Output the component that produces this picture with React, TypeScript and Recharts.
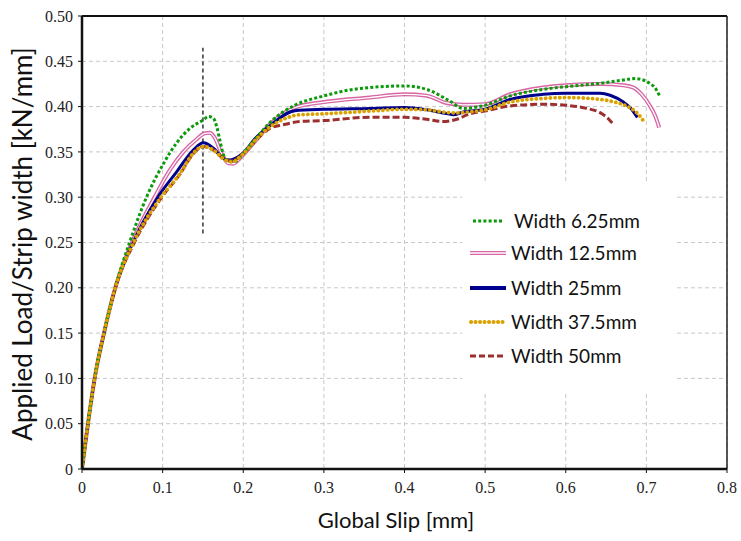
import React from 'react';
import { LineChart, Line, XAxis, YAxis, CartesianGrid, ReferenceLine } from 'recharts';

// ---------- data ----------
const xTicks = [0, 0.1, 0.2, 0.3, 0.4, 0.5, 0.6, 0.7, 0.8];
const yTicks = [0, 0.05, 0.1, 0.15, 0.2, 0.25, 0.3, 0.35, 0.4, 0.45, 0.5];

const seriesNames = ['Width 6.25mm', 'Width 12.5mm', 'Width 25mm', 'Width 37.5mm', 'Width 50mm'];

const width625: [number, number][] = [
  [0, 0], [0.0074, 0.05], [0.0157, 0.1], [0.0273, 0.15], [0.041, 0.2], [0.059, 0.25], [0.08, 0.3],
  [0.101, 0.337], [0.117, 0.3595], [0.134, 0.376], [0.15, 0.385], [0.157, 0.389], [0.163, 0.387],
  [0.167, 0.378], [0.171, 0.363], [0.175, 0.348], [0.181, 0.34], [0.188, 0.339], [0.2, 0.348],
  [0.215, 0.364], [0.233, 0.3824], [0.264, 0.4015],
  [0.3, 0.4118], [0.3365, 0.419], [0.4, 0.4228], [0.4275, 0.419], [0.4565, 0.406], [0.473, 0.398],
  [0.5, 0.4015], [0.531, 0.4118], [0.572, 0.419], [0.6, 0.422], [0.6425, 0.4257], [0.6714, 0.4294],
  [0.686, 0.431], [0.7085, 0.4228], [0.717, 0.411],
];

const width125: [number, number][] = [
  [0, 0], [0.0074, 0.05], [0.0157, 0.1], [0.0273, 0.15], [0.0413, 0.2], [0.062, 0.25], [0.09, 0.3],
  [0.109, 0.33], [0.1257, 0.35], [0.1422, 0.364], [0.1525, 0.3705], [0.1587, 0.371], [0.165, 0.365],
  [0.1733, 0.348], [0.1815, 0.3374], [0.1877, 0.337], [0.196, 0.343], [0.215, 0.362], [0.233, 0.3805],
  [0.264, 0.399], [0.3, 0.405],
  [0.357, 0.41], [0.4, 0.4136], [0.4275, 0.412], [0.452, 0.404], [0.473, 0.402], [0.5, 0.4026],
  [0.531, 0.4136], [0.572, 0.421], [0.6, 0.4235], [0.6425, 0.425], [0.6714, 0.4235], [0.684, 0.421],
  [0.694, 0.4136], [0.7045, 0.4007], [0.711, 0.3897], [0.716, 0.3768],
];

const width25: [number, number][] = [
  [0, 0], [0.0074, 0.05], [0.0157, 0.1], [0.0273, 0.15], [0.0413, 0.2], [0.0633, 0.25], [0.094, 0.3],
  [0.1174, 0.328], [0.138, 0.352], [0.1505, 0.36], [0.163, 0.354], [0.175, 0.343], [0.1815, 0.341],
  [0.2, 0.349], [0.215, 0.365], [0.233, 0.379], [0.264, 0.3955], [0.3, 0.397], [0.357, 0.398],
  [0.4, 0.399], [0.4275, 0.3965], [0.448, 0.393], [0.4605, 0.391], [0.473, 0.394], [0.5, 0.397],
  [0.531, 0.408], [0.572, 0.4136], [0.6, 0.4147], [0.6425, 0.4147], [0.655, 0.4125], [0.6714, 0.405],
  [0.6797, 0.399], [0.6888, 0.388],
];

const width375: [number, number][] = [
  [0, 0], [0.0074, 0.05], [0.0157, 0.1], [0.0273, 0.15], [0.0413, 0.2], [0.064, 0.25], [0.098, 0.3],
  [0.1215, 0.326], [0.138, 0.3485], [0.1505, 0.356], [0.163, 0.352], [0.1774, 0.341], [0.1856, 0.339],
  [0.2, 0.348], [0.215, 0.363], [0.233, 0.3775], [0.2497, 0.386], [0.27, 0.391], [0.3, 0.392],
  [0.357, 0.395], [0.4, 0.397], [0.4275, 0.3965], [0.448, 0.394], [0.4647, 0.393], [0.481, 0.3942],
  [0.5, 0.3965], [0.531, 0.405], [0.572, 0.409], [0.6, 0.41], [0.6425, 0.408], [0.663, 0.4044],
  [0.6755, 0.4007], [0.6879, 0.3934], [0.698, 0.3824],
];

const width50: [number, number][] = [
  [0, 0], [0.0074, 0.05], [0.0157, 0.1], [0.0273, 0.15], [0.0413, 0.2], [0.065, 0.25], [0.099, 0.3],
  [0.122, 0.326], [0.138, 0.348], [0.1505, 0.356], [0.163, 0.352], [0.1774, 0.342], [0.1856, 0.34],
  [0.2, 0.348], [0.215, 0.362], [0.233, 0.376], [0.2497, 0.38], [0.27, 0.3835], [0.3, 0.3846],
  [0.357, 0.3882], [0.4, 0.3882], [0.4275, 0.386], [0.448, 0.3835], [0.4647, 0.386], [0.481, 0.392],
  [0.5, 0.3952], [0.531, 0.4007], [0.572, 0.4026], [0.6, 0.4015], [0.626, 0.398], [0.6425, 0.3934],
  [0.6526, 0.3868], [0.659, 0.3805],
];

const markerX = [0.15];
const markerY = [0.26, 0.465];

// ---------- helpers ----------
const toRows = (arr: [number, number][]) => arr.map(([x, y]) => ({ x, y }));

const GREEN = '#0a9a0a';
const PINK = '#d865a5';
const BLUE = '#00008f';
const GOLD = '#d9a200';
const RED = '#9c2f2f';

const SANS = 'Lato, "Open Sans", sans-serif';
const SERIF = '"Liberation Serif", "DejaVu Serif", serif';

const fmtY = (v: number) => (v === 0 ? '0' : v.toFixed(2));
const fmtX = (v: number) => (v === 0 ? '0' : String(v));

const XTick = (props: any) => {
  const { x, y, payload } = props;
  return (
    <text x={x} y={y} dy="0.71em" textAnchor="middle" style={{ fontFamily: SERIF, fontSize: 16 }} fill="#222">
      {fmtX(payload.value)}
    </text>
  );
};

const YTick = (props: any) => {
  const { x, y, payload } = props;
  return (
    <text x={x} y={y} dy="0.355em" textAnchor="end" style={{ fontFamily: SERIF, fontSize: 16 }} fill="#222">
      {fmtY(payload.value)}
    </text>
  );
};

const LegendSample = ({ idx }: { idx: number }) => {
  const w = 38;
  const h = 12;
  const y = 6;
  if (idx === 0)
    return (
      <svg width={w} height={h}>
        <line x1={4} x2={34} y1={y} y2={y} stroke={GREEN} strokeWidth={3} strokeDasharray="3 2.2" />
      </svg>
    );
  if (idx === 1)
    return (
      <svg width={w} height={h}>
        <line x1={1} x2={37} y1={y} y2={y} stroke={PINK} strokeWidth={4} />
        <line x1={1} x2={37} y1={y} y2={y} stroke="#fff" strokeWidth={1.3} />
      </svg>
    );
  if (idx === 2)
    return (
      <svg width={w} height={h}>
        <line x1={1} x2={37} y1={y} y2={y} stroke={BLUE} strokeWidth={4} />
      </svg>
    );
  if (idx === 3)
    return (
      <svg width={w} height={h}>
        <line x1={2} x2={37} y1={y} y2={y} stroke={GOLD} strokeWidth={4} strokeDasharray="0.1 4.4" strokeLinecap="round" />
      </svg>
    );
  return (
    <svg width={w} height={h}>
      <line x1={1} x2={37} y1={y} y2={y} stroke={RED} strokeWidth={3} strokeDasharray="6 3" />
    </svg>
  );
};

const legendRowTops = [212, 244, 279, 313, 347];

export default function App() {
  return (
    <div style={{ position: 'absolute', left: 0, top: 0, width: 741, height: 541, background: '#fff' }}>
      <LineChart width={741} height={541} margin={{ top: 16, right: 14, bottom: 0, left: 0 }}>
        <CartesianGrid stroke="#c8c8c8" strokeDasharray="4 3" strokeWidth={1} />
        <XAxis
          dataKey="x"
          type="number"
          domain={[0, 0.8]}
          ticks={xTicks}
          height={72}
          tickSize={4}
          tickMargin={9}
          axisLine={{ stroke: '#111', strokeWidth: 2.5 }}
          tickLine={{ stroke: '#111', strokeWidth: 1 }}
          tick={<XTick />}
          allowDataOverflow
          label={{
            content: () => (
              <text x={396} y={528} textAnchor="middle" style={{ fontFamily: SANS, fontSize: 22 }} fill="#111">
                Global Slip [mm]
              </text>
            ),
          }}
        />
        <YAxis
          type="number"
          domain={[0, 0.5]}
          ticks={yTicks}
          width={82}
          tickSize={4}
          tickMargin={5}
          axisLine={{ stroke: '#111', strokeWidth: 2.5 }}
          tickLine={{ stroke: '#111', strokeWidth: 1 }}
          tick={<YTick />}
          allowDataOverflow
          label={{
            content: () => (
              <text
                x={22}
                y={244}
                transform="rotate(-90 22 244)"
                textAnchor="middle"
                dominantBaseline="central"
                style={{ fontFamily: SANS, fontSize: 26 }}
                fill="#111"
              >
                Applied Load/Strip width [kN/mm]
              </text>
            ),
          }}
        />
        <ReferenceLine y={0.5} stroke="#111" strokeWidth={2} />
        <ReferenceLine x={0.8} stroke="#222" strokeWidth={1.5} />
        <ReferenceLine
          segment={[{ x: markerX[0], y: markerY[0] }, { x: markerX[0], y: markerY[1] }]}
          stroke="#000"
          strokeWidth={1.2}
          strokeDasharray="4 3"
        />
        <Line data={toRows(width125)} dataKey="y" name={seriesNames[1]} type="monotone" stroke={PINK} strokeWidth={4} dot={false} activeDot={false} isAnimationActive={false} />
        <Line data={toRows(width125)} dataKey="y" name={seriesNames[1] + ' inner'} type="monotone" stroke="#fff" strokeWidth={1.3} dot={false} activeDot={false} isAnimationActive={false} legendType="none" />
        <Line data={toRows(width25)} dataKey="y" name={seriesNames[2]} type="monotone" stroke={BLUE} strokeWidth={3} dot={false} activeDot={false} isAnimationActive={false} />
        <Line data={toRows(width50)} dataKey="y" name={seriesNames[4]} type="monotone" stroke={RED} strokeWidth={3} strokeDasharray="7 3" dot={false} activeDot={false} isAnimationActive={false} />
        <Line data={toRows(width625)} dataKey="y" name={seriesNames[0]} type="monotone" stroke={GREEN} strokeWidth={3} strokeDasharray="3 2.2" dot={false} activeDot={false} isAnimationActive={false} />
        <Line data={toRows(width375)} dataKey="y" name={seriesNames[3]} type="monotone" stroke={GOLD} strokeWidth={3.8} strokeDasharray="0.1 4.6" strokeLinecap="round" dot={false} activeDot={false} isAnimationActive={false} />
      </LineChart>
      <div
        style={{
          position: 'absolute',
          left: 462,
          top: 184,
          width: 213,
          height: 208,
          background: '#fff',
        }}
      />
      {seriesNames.map((name, i) => (
        <div
          key={name}
          style={{
            position: 'absolute',
            left: 469,
            top: legendRowTops[i] - 2,
            display: 'flex',
            alignItems: 'center',
            fontFamily: SANS,
            fontSize: 19,
            color: '#111',
            lineHeight: '22px',
            whiteSpace: 'nowrap',
          }}
        >
          <LegendSample idx={i} />
          <span style={{ marginLeft: i === 0 ? 7 : 4 }}>{name}</span>
        </div>
      ))}
    </div>
  );
}
